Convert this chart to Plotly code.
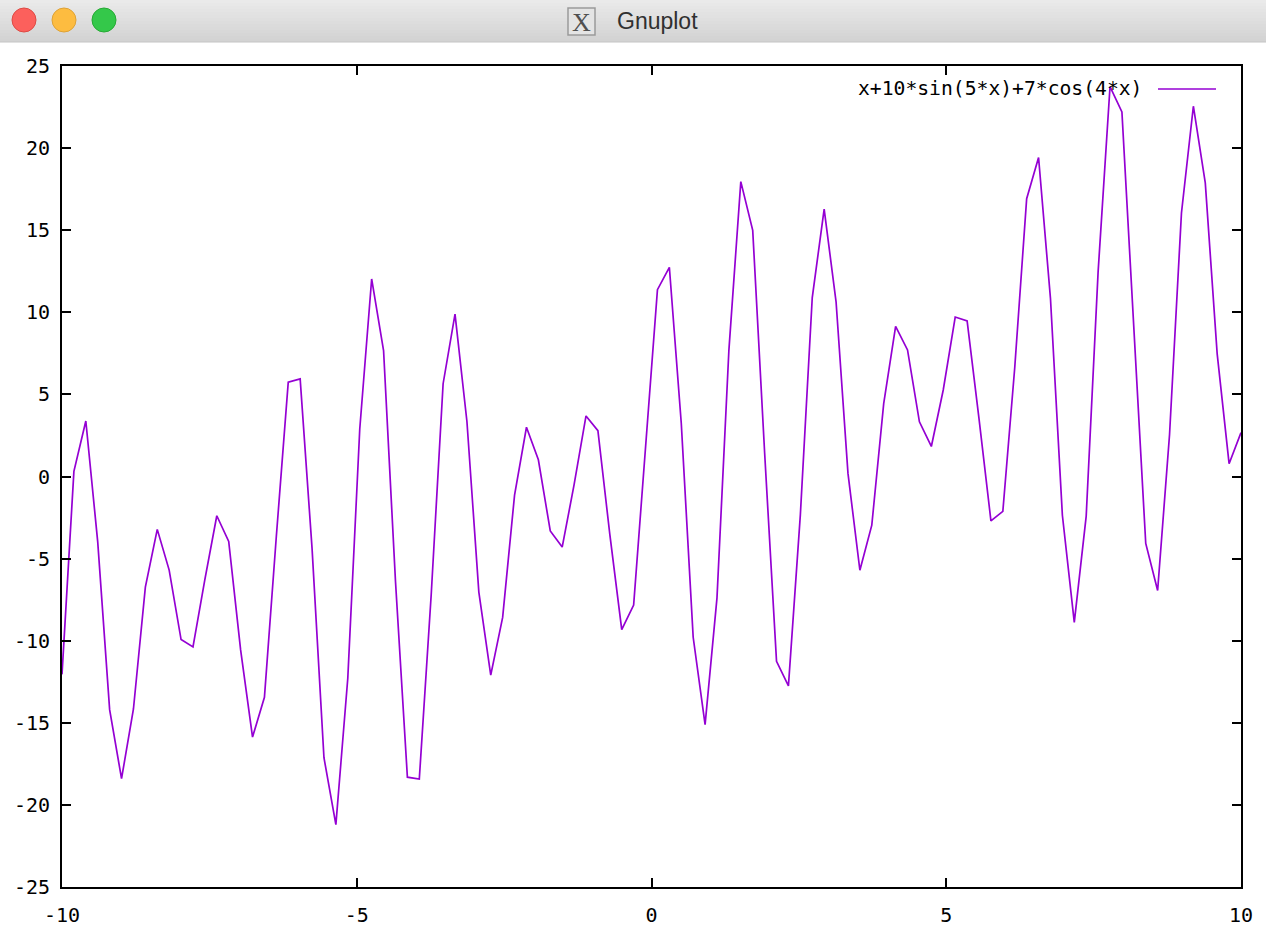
import plotly.graph_objects as go

# ---- data ----
x_vals = [-10.0, -9.798, -9.596, -9.394, -9.192, -8.990, -8.788, -8.586, -8.384, -8.182,
          -7.980, -7.778, -7.576, -7.374, -7.172, -6.970, -6.768, -6.566, -6.364, -6.162,
          -5.960, -5.758, -5.556, -5.354, -5.152, -4.949, -4.747, -4.545, -4.343, -4.141,
          -3.939, -3.737, -3.535, -3.333, -3.131, -2.929, -2.727, -2.525, -2.323, -2.121,
          -1.919, -1.717, -1.515, -1.313, -1.111, -0.909, -0.707, -0.505, -0.303, -0.101,
          0.101, 0.303, 0.505, 0.707, 0.909, 1.111, 1.313, 1.515, 1.717, 1.919,
          2.121, 2.323, 2.525, 2.727, 2.929, 3.131, 3.333, 3.535, 3.737, 3.939,
          4.141, 4.343, 4.545, 4.747, 4.949, 5.152, 5.354, 5.556, 5.758, 5.960,
          6.162, 6.364, 6.566, 6.768, 6.970, 7.172, 7.374, 7.576, 7.778, 7.980,
          8.182, 8.384, 8.586, 8.788, 8.990, 9.192, 9.394, 9.596, 9.798, 10.0]

y_vals = [-12.05, 0.31, 3.38, -3.98, -14.20, -18.40, -14.16, -6.74, -3.22, -5.70,
          -9.93, -10.38, -6.27, -2.39, -3.95, -10.56, -15.87, -13.45, -3.64, 5.74,
          5.94, -4.39, -17.13, -21.20, -12.29, 2.89, 12.03, 7.67, -6.38, -18.31,
          -18.43, -7.20, 5.65, 9.89, 3.35, -7.04, -12.10, -8.58, -1.13, 3.00,
          1.02, -3.32, -4.30, -0.50, 3.69, 2.79, -3.53, -9.33, -7.83, 1.50,
          11.38, 12.74, 3.24, -9.79, -15.11, -7.39, 7.70, 17.96, 14.99, 1.45,
          -11.26, -12.75, -2.34, 10.90, 16.28, 10.64, 0.19, -5.71, -2.96, 4.44,
          9.15, 7.71, 3.33, 1.83, 5.27, 9.71, 9.47, 3.51, -2.70, -2.12,
          6.64, 16.92, 19.43, 10.84, -2.36, -8.88, -2.41, 12.46, 23.74, 22.20,
          9.29, -4.08, -6.94, 2.56, 16.05, 22.55, 17.88, 7.47, 0.78, 2.67]

series_name = "x+10*sin(5*x)+7*cos(4*x)"
window_title = "Gnuplot"

x_ticks = [-10, -5, 0, 5, 10]
x_ticktext = ["-10", "-5", "0", "5", "10"]
y_ticks = [-25, -20, -15, -10, -5, 0, 5, 10, 15, 20, 25]
y_ticktext = ["-25", "-20", "-15", "-10", "-5", "0", "5", "10", "15", "20", "25"]

# ---- layout geometry (pixels) ----
W, H = 1266, 932
L, R, T, B = 62, 25, 66, 45
PW, PH = W - L - R, H - T - B


def px(xp):
    return (xp - L) / PW


def py(yp):
    return (H - B - yp) / PH


LINE_COLOR = "#9400d3"
MONO = "DejaVu Sans Mono"

fig = go.Figure()
fig.add_trace(go.Scatter(x=x_vals, y=y_vals, mode="lines", name=series_name,
                         line=dict(color=LINE_COLOR, width=1.7), showlegend=False,
                         hoverinfo="skip"))

shapes = []
# title bar gradient
bands = 14
for i in range(bands):
    y0 = i * 42 / bands
    y1 = (i + 1) * 42 / bands
    c = int(234 - (234 - 211) * i / (bands - 1))
    shapes.append(dict(type="rect", xref="paper", yref="paper",
                       x0=px(0), x1=px(W), y0=py(y1), y1=py(y0),
                       fillcolor=f"rgb({c},{c},{c})", line=dict(width=0), layer="below"))
shapes.append(dict(type="line", xref="paper", yref="paper", x0=px(0), x1=px(W),
                   y0=py(42), y1=py(42), line=dict(color="#c4c4c4", width=1)))
# traffic lights
for cx, fill, edge in [(24, "#fc605c", "#de4a44"), (64, "#fdbc40", "#dea236"),
                       (104, "#34c84a", "#27aa35")]:
    shapes.append(dict(type="circle", xref="paper", yref="paper",
                       x0=px(cx - 12), x1=px(cx + 12), y0=py(32), y1=py(8),
                       fillcolor=fill, line=dict(color=edge, width=1)))
# window icon
shapes.append(dict(type="rect", xref="paper", yref="paper",
                   x0=px(568), x1=px(595), y0=py(35), y1=py(8),
                   fillcolor="#e4e4e4", line=dict(color="#9a9a9a", width=1.5)))
# legend key line
shapes.append(dict(type="line", xref="paper", yref="paper",
                   x0=px(1158), x1=px(1216), y0=py(89), y1=py(89),
                   line=dict(color=LINE_COLOR, width=1.7)))

annotations = [
    dict(text=window_title, xref="paper", yref="paper", x=px(657), y=py(21),
         xanchor="center", yanchor="middle", showarrow=False,
         font=dict(family="Liberation Sans", size=23, color="#303030")),
    dict(text="X", xref="paper", yref="paper", x=px(581.5), y=py(22),
         xanchor="center", yanchor="middle", showarrow=False,
         font=dict(family="Liberation Serif", size=26, color="#505050")),
    dict(text=series_name, xref="paper", yref="paper", x=px(1144), y=py(88),
         xanchor="right", yanchor="middle", showarrow=False,
         font=dict(family=MONO, size=19.7, color="black")),
]

axis_common = dict(showline=True, linecolor="black", linewidth=2, mirror="ticks",
                   ticks="inside", ticklen=9, tickwidth=1.5, tickcolor="black",
                   showgrid=False, zeroline=False, automargin=False,
                   tickfont=dict(family=MONO, size=20, color="black"))

fig.update_layout(
    width=W, height=H,
    margin=dict(l=L, r=R, t=T, b=B, pad=0),
    paper_bgcolor="white", plot_bgcolor="white",
    xaxis=dict(range=[-10, 10], tickmode="array", tickvals=x_ticks, ticktext=x_ticktext,
               ticklabelstandoff=9, **axis_common),
    yaxis=dict(range=[-25, 25], tickmode="array", tickvals=y_ticks, ticktext=y_ticktext,
               ticklabelstandoff=6, **axis_common),
    shapes=shapes,
    annotations=annotations,
    showlegend=False,
)

fig.write_html("out.html", config={"displayModeBar": False},
               post_script="document.body.style.margin='0';document.body.style.overflow='hidden';")
